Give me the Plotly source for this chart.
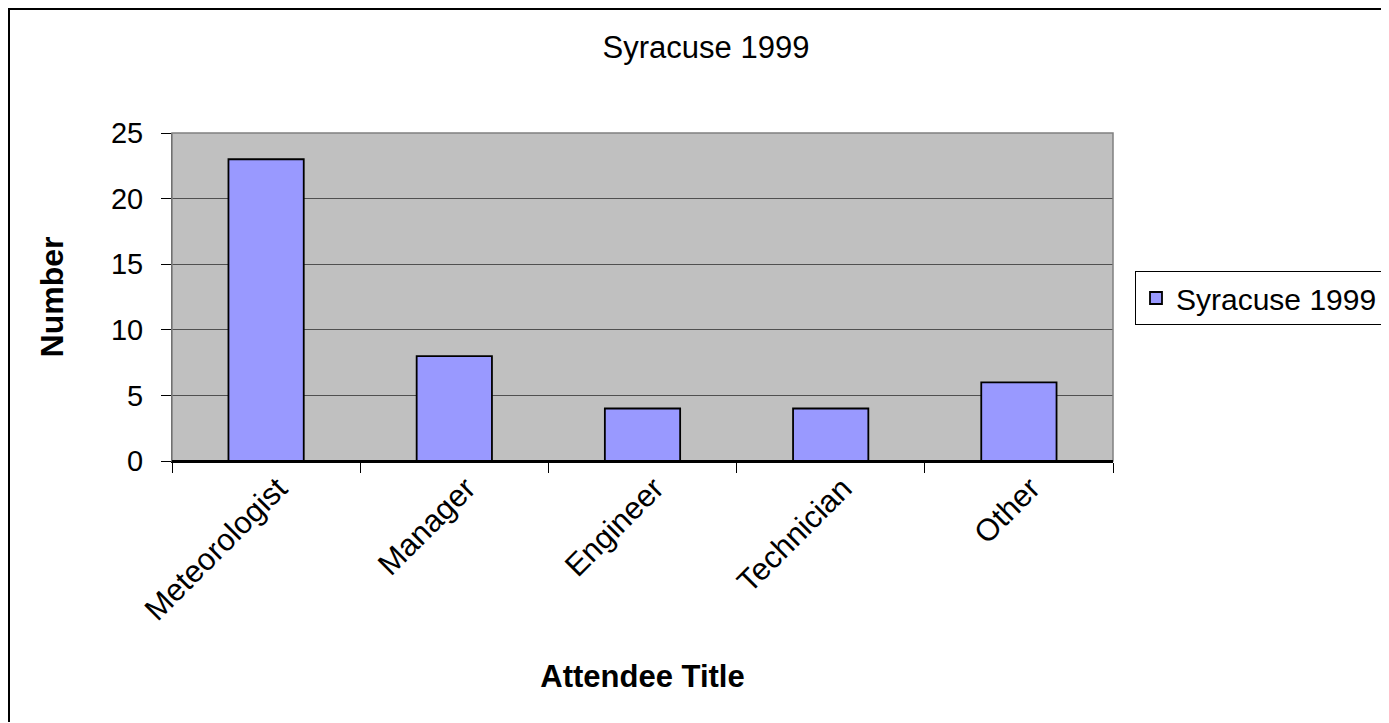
import plotly.graph_objects as go

categories = ["Meteorologist", "Manager", "Engineer", "Technician", "Other"]
values = [23, 8, 4, 4, 6]
series_name = "Syracuse 1999"
y_ticks = [0, 5, 10, 15, 20, 25]

FONT = "Liberation Sans, Arial, sans-serif"

W, H = 1380, 714
L, T, PW, PH = 164, 125, 941, 328
R = W - L - PW
B = H - T - PH


def px(fx):
    return (fx - L) / PW


def py(fy):
    return (T + PH - fy) / PH


fig = go.Figure()
fig.add_trace(go.Bar(
    x=categories, y=values, name=series_name,
    marker=dict(color="#9999FF", line=dict(color="black", width=1.8)),
    width=0.4, showlegend=True,
))

fig.update_layout(
    width=W, height=H,
    margin=dict(l=L, r=R, t=T, b=B, autoexpand=False),
    paper_bgcolor="white", plot_bgcolor="#C0C0C0",
    font=dict(family=FONT, color="black"),
    title=dict(text="Syracuse 1999", x=698 / W, xref="container", xanchor="center",
               y=1 - 39 / H, yanchor="middle",
               font=dict(size=31, family=FONT, color="black")),
    showlegend=True,
    legend=dict(x=px(1127), xanchor="left", y=py(290), yanchor="middle",
                bordercolor="black", borderwidth=1, bgcolor="white",
                font=dict(size=30, family=FONT), itemwidth=30,
                tracegroupgap=0),
    bargap=0.6,
)

fig.update_xaxes(
    type="category", tickson="boundaries", ticks="outside", ticklen=10,
    tickcolor="black", tickwidth=1, showgrid=False, tickangle=-45,
    tickfont=dict(size=31, family=FONT), showline=True, linecolor="black", linewidth=1.8,
    ticklabelshift=12, ticklabelstandoff=-5,
    title=dict(text="<b>Attendee Title</b>", font=dict(size=31, family=FONT), standoff=39),
)
fig.update_yaxes(
    range=[0, 25], tickvals=y_ticks, ticks="outside", ticklen=10,
    tickcolor="black", tickwidth=1, showgrid=True, gridcolor="#505050", gridwidth=1,
    tickfont=dict(size=29, family=FONT), showline=True, linecolor="#404040", linewidth=1,
    zeroline=False, ticklabelstandoff=12,
    title=dict(text="<b>Number</b>", font=dict(size=32, family=FONT), standoff=37),
)

# plot area border (gray)
fig.add_shape(type="rect", xref="paper", yref="paper", x0=0, x1=1, y0=0, y1=1,
              line=dict(color="#808080", width=1.5), layer="above")
fig.add_shape(type="line", xref="paper", yref="paper", x0=0, x1=1, y0=0, y1=0,
              line=dict(color="black", width=1.8), layer="above")
# outer chart border
fig.add_shape(type="rect", xref="paper", yref="paper",
              x0=px(1), x1=px(W + 10), y0=py(H + 10), y1=py(1),
              line=dict(color="black", width=2), layer="below")

fig.write_html("out.html")
